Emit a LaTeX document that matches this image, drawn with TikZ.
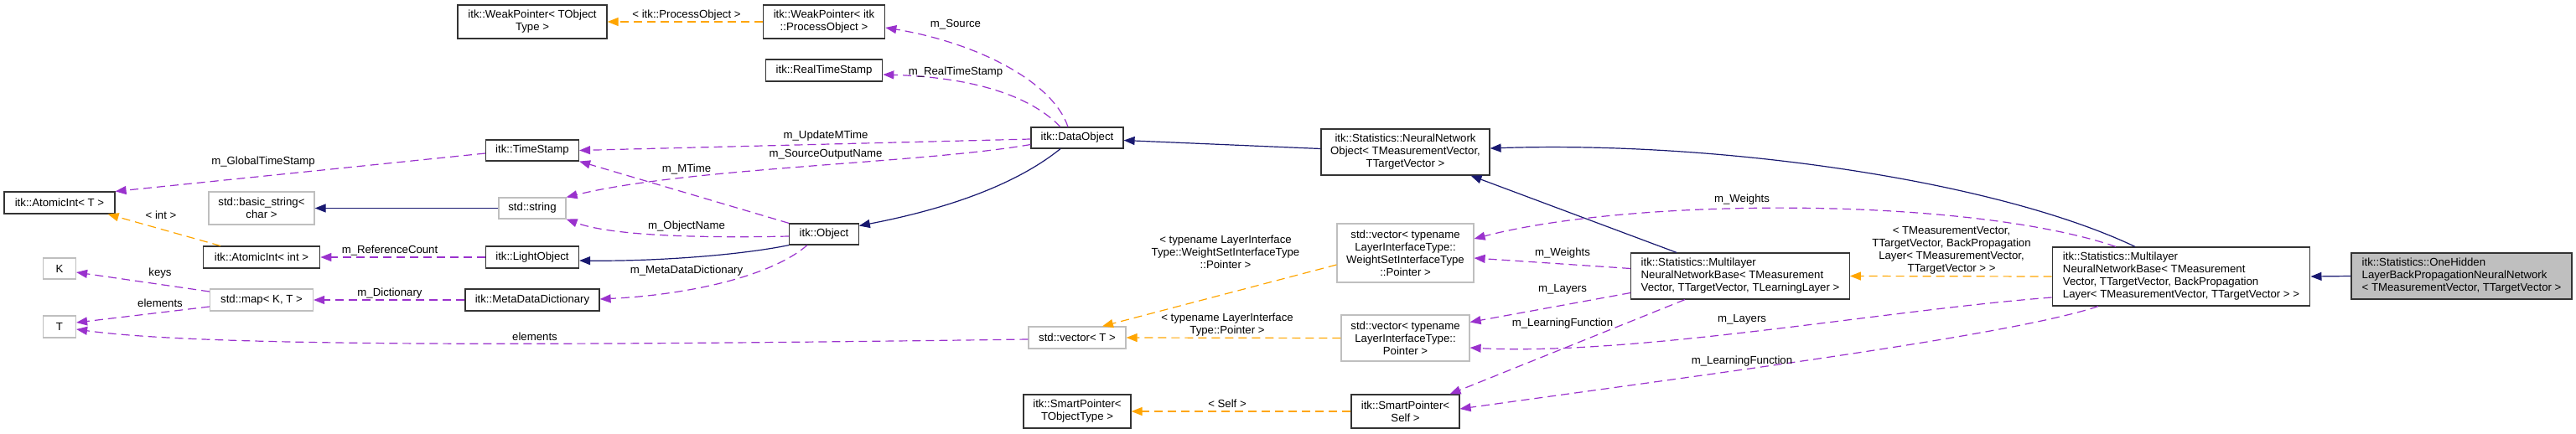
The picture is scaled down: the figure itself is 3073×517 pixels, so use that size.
\documentclass[tikz,border=0pt]{standalone}
\usepackage{fontspec}
\setmainfont{Liberation Sans}
\usetikzlibrary{arrows.meta}
\definecolor{inhcol}{HTML}{191970}
\definecolor{memcol}{HTML}{9A32CD}
\definecolor{tplcol}{HTML}{FFA500}
\definecolor{extcol}{HTML}{BFBFBF}

\begin{document}
\begin{tikzpicture}[x=1pt, y=-1pt,
  every node/.style={font=\fontsize{13.2}{15}\selectfont, inner sep=0pt},
  dims/.style 2 args={minimum width=#1pt, minimum height=#2pt},
  cls/.style={draw=black!80, line width=1.2pt, fill=white, align=center},
  ext/.style={cls, draw=extcol},
  lcls/.style={cls, align=left},
  inh/.style={draw=inhcol, line width=1.2pt, -{Triangle[length=13pt,width=10pt]}},
  mem/.style={draw=memcol, line width=1.2pt, dash pattern=on 10pt off 6pt, -{Triangle[length=13pt,width=10pt]}},
  tpl/.style={mem, draw=tplcol},
  lbl/.style={align=center}]
\useasboundingbox (0,0) rectangle (3073,517);

% classes
\node[cls, dims={132}{26}] (atT) at (71,242) {itk::AtomicInt< T >};
\node[ext, dims={126}{39}] (bstr) at (312,248.5) {std::basic\_string<\\char >};
\node[cls, dims={139.5}{26}] (aint) at (312,307) {itk::AtomicInt< int >};
\node[ext, dims={39}{25}] (K) at (71,320.5) {K};
\node[ext, dims={39}{26}] (T) at (71,390) {T};
\node[ext, dims={123}{26}] (map) at (312,358) {std::map< K, T >};
\node[cls, dims={178}{40}] (wpt) at (635,26) {itk::WeakPointer< TObject\\Type >};
\node[cls, dims={111}{25}] (ts) at (635,179.5) {itk::TimeStamp};
\node[ext, dims={80}{25}] (str) at (635,248.5) {std::string};
\node[cls, dims={111}{26}] (light) at (635,307) {itk::LightObject};
\node[cls, dims={160}{26}] (mdd) at (635,358) {itk::MetaDataDictionary};
\node[cls, dims={145.5}{40}] (wpp) at (983,26) {itk::WeakPointer< itk\\::ProcessObject >};
\node[cls, dims={139.5}{26}] (rts) at (983,84) {itk::RealTimeStamp};
\node[cls, dims={82.5}{25}] (obj) at (983,279.5) {itk::Object};
\node[cls, dims={110}{25}] (dobj) at (1285,164.5) {itk::DataObject};
\node[ext, dims={116}{26}] (vec) at (1285,403) {std::vector< T >};
\node[cls, dims={128}{40}] (spt) at (1285,491) {itk::SmartPointer<\\TObjectType >};
\node[cls, dims={201}{55}] (nno) at (1676.5,181.5) {itk::Statistics::NeuralNetwork\\Object< TMeasurementVector,\\TTargetVector >};
\node[ext, dims={163}{70}] (vws) at (1676.5,302) {std::vector< typename\\LayerInterfaceType::\\WeightSetInterfaceType\\::Pointer >};
\node[ext, dims={153}{55}] (vlp) at (1676.5,403.5) {std::vector< typename\\LayerInterfaceType::\\Pointer >};
\node[cls, dims={129}{40}] (sps) at (1676.5,491) {itk::SmartPointer<\\Self >};
\node[lcls, dims={260.5}{55}] (mlb) at (2076,329.5) {itk::Statistics::Multilayer\\NeuralNetworkBase< TMeasurement\\Vector, TTargetVector, TLearningLayer >};
\node[lcls, dims={307.7}{70}] (mbp) at (2602,330) {itk::Statistics::Multilayer\\NeuralNetworkBase< TMeasurement\\Vector, TTargetVector, BackPropagation\\Layer< TMeasurementVector, TTargetVector > >};
\node[lcls, fill=extcol, dims={263}{55}] (ohn) at (2936.5,329.5) {itk::Statistics::OneHidden\\LayerBackPropagationNeuralNetwork\\< TMeasurementVector, TTargetVector >};

% inheritance
\draw[inh] (str.west) -- (bstr.east);
\draw[inh] (obj.south west) .. controls (880,305) and (780,312) .. ([yshift=-4pt]light.east);
\draw[inh] ([xshift=-20pt]dobj.south) .. controls (1200,230) and (1100,255) .. ([yshift=10pt]obj.east);
\draw[inh] ([yshift=4pt]nno.west) -- ([yshift=-3pt]dobj.east);
\draw[inh] ([xshift=-76pt]mlb.north) -- ([xshift=78pt]nno.south);
\draw[inh] ([xshift=-55pt]mbp.north) .. controls (2380,215) and (2050,168) .. ([yshift=4.5pt]nno.east);
\draw[inh] (ohn.west) -- (mbp.east);

% template instances
\draw[tpl] (wpp.west) -- (wpt.east) node[lbl] (l1) at (819,17.7) {< itk::ProcessObject >};
\draw[tpl] ([xshift=-49pt]aint.north) -- ([xshift=-9pt]atT.south east) node[lbl] (l11) at (192,257) {< int >};
\draw[tpl] ([yshift=-14pt]vws.west) -- ([xshift=30pt]vec.north) node[lbl] (l16) at (1462,300.7) {< typename LayerInterface\\Type::WeightSetInterfaceType\\::Pointer >};
\draw[tpl] (vlp.west) -- (vec.east) node[lbl] (l17) at (1464,387.7) {< typename LayerInterface\\Type::Pointer >};
\draw[tpl] (sps.west) -- (spt.east) node[lbl] (l18) at (1464,482) {< Self >};
\draw[tpl] (mbp.west) -- (mlb.east) node[lbl] (l22) at (2328,299) {< TMeasurementVector,\\TTargetVector, BackPropagation\\Layer< TMeasurementVector,\\TTargetVector > >};

% members
\draw[mem] ([xshift=-11pt]dobj.north) .. controls (1255,95) and (1160,50) .. ([yshift=-7pt]wpp.east) node[lbl] (l2) at (1140,29) {m\_Source};
\draw[mem] ([xshift=-20pt]dobj.north) .. controls (1225,110) and (1150,92) .. ([yshift=-5pt]rts.east) node[lbl] (l3) at (1140,86) {m\_RealTimeStamp};
\draw[mem] ([yshift=-1.5pt]dobj.west) -- (ts.east) node[lbl] (l4) at (985,162) {m\_UpdateMTime};
\draw[mem] ([yshift=-8pt]dobj.west) .. controls (1100,195) and (820,200) .. (str.north east) node[lbl] (l5) at (985,184) {m\_SourceOutputName};
\draw[mem] (obj.north west) -- (ts.south east) node[lbl] (l6) at (819,202) {m\_MTime};
\draw[mem] ([yshift=-2.5pt]obj.west) .. controls (800,285) and (720,278) .. (str.south east) node[lbl] (l7) at (819,270) {m\_ObjectName};
\draw[mem] ([xshift=-20pt]obj.south) .. controls (920,330) and (820,352) .. ([yshift=1pt]mdd.east) node[lbl] (l8) at (819,322.7) {m\_MetaDataDictionary};
\draw[mem] (light.west) -- (aint.east) node[lbl] (l9) at (465,299) {m\_ReferenceCount};
\draw[mem] (mdd.west) -- (map.east) node[lbl] (l10) at (465,350) {m\_Dictionary};
\draw[mem] ([yshift=-3.5pt]ts.west) -- (atT.north east) node[lbl] (l12) at (314,192.7) {m\_GlobalTimeStamp};
\draw[mem] ([yshift=10pt]map.west) -- ([yshift=-4.5pt]K.east) node[lbl] (l13) at (191,326) {keys};
\draw[mem] ([yshift=-8pt]map.west) -- ([yshift=5pt]T.east) node[lbl] (l14) at (191,361.7) {elements};
\draw[mem] ([yshift=-2pt]vec.west) .. controls (700,412) and (250,415) .. ([yshift=-3pt]T.east) node[lbl] (l15) at (638,401.7) {elements};
\draw[mem] ([yshift=9pt]mlb.west) -- ([yshift=-6pt]vws.east) node[lbl] (l19) at (1864,301.7) {m\_Weights};
\draw[mem] ([yshift=-20pt]mlb.west) -- ([yshift=19pt]vlp.east) node[lbl] (l20) at (1864,345.7) {m\_Layers};
\draw[mem] ([xshift=-66pt]mlb.south) -- ([xshift=53pt]sps.north) node[lbl] (l21) at (1864,386) {m\_LearningFunction};
\draw[mem] ([xshift=-78pt]mbp.north) .. controls (2350,235) and (1950,235) .. ([yshift=17pt]vws.east) node[lbl] (l23) at (2078,237.7) {m\_Weights};
\draw[mem] ([yshift=-25pt]mbp.west) .. controls (2250,370) and (1950,425) .. ([yshift=-11.5pt]vlp.east) node[lbl] (l24) at (2078,381.7) {m\_Layers};
\draw[mem] ([xshift=-99pt]mbp.south) .. controls (2400,400) and (2050,445) .. ([yshift=3pt]sps.east) node[lbl] (l25) at (2078,431) {m\_LearningFunction};
\end{tikzpicture}
\end{document}
